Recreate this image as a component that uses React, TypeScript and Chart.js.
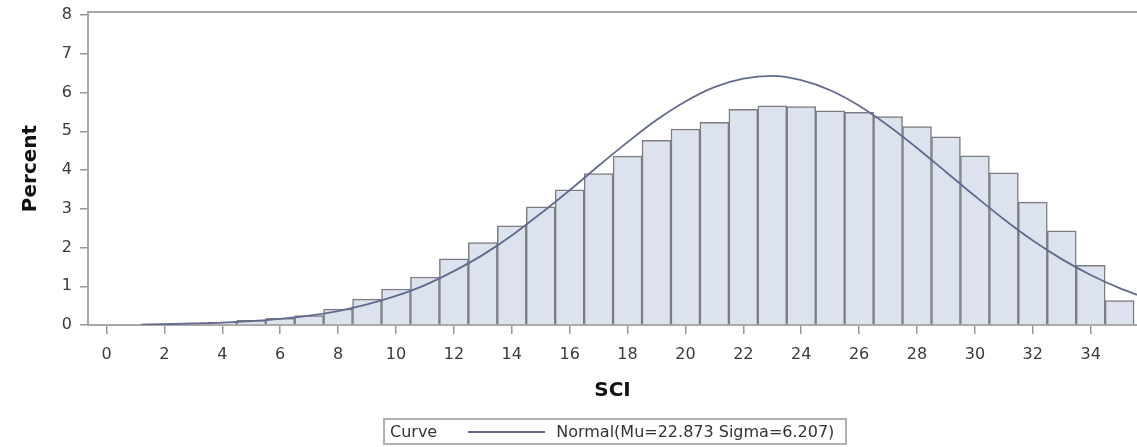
import React, { useEffect, useRef } from "react";
import { Chart, registerables } from "chart.js";

Chart.register(...registerables);

// Histogram bins (SCI value at bin centre) and percent per bin
const binCenters: number[] = [1, 2, 3, 4, 5, 6, 7, 8, 9, 10, 11, 12, 13, 14, 15, 16, 17, 18, 19, 20, 21, 22, 23, 24, 25, 26, 27, 28, 29, 30, 31, 32, 33, 34, 35];
const binPercents: number[] = [0.0, 0.01, 0.03, 0.07, 0.12, 0.17, 0.24, 0.41, 0.67, 0.93, 1.24, 1.71, 2.13, 2.56, 3.05, 3.49, 3.91, 4.36, 4.77, 5.06, 5.23, 5.57, 5.66, 5.64, 5.53, 5.49, 5.38, 5.12, 4.86, 4.37, 3.93, 3.17, 2.43, 1.54, 0.63];

// Fitted normal curve
const curveX: number[] = [1.2, 2, 3, 4, 5, 6, 7, 8, 9, 10, 11, 12, 13, 14, 15, 16, 17, 18, 19, 20, 21, 22, 23, 24, 25, 26, 27, 28, 29, 30, 31, 32, 33, 34, 35, 35.6];
const curveY: number[] = [0.01, 0.02, 0.04, 0.06, 0.1, 0.16, 0.24, 0.36, 0.53, 0.75, 1.03, 1.39, 1.81, 2.31, 2.88, 3.48, 4.11, 4.72, 5.29, 5.77, 6.14, 6.36, 6.43, 6.32, 6.06, 5.66, 5.15, 4.57, 3.95, 3.33, 2.73, 2.18, 1.7, 1.29, 0.95, 0.78];

const xTitle = "SCI";
const yTitle = "Percent";
const legendTitle = "Curve";
const curveLabel = "Normal(Mu=22.873 Sigma=6.207)";

const FONT = "'DejaVu Sans', Verdana, sans-serif";
const AXIS = "#aaa6a6";
const TICK = "#9a9696";
const CURVE = "#626a8e";

const framePlugin = {
  id: "frameTop",
  afterDatasetsDraw(chart: any) {
    const { ctx, chartArea } = chart;
    ctx.save();
    ctx.strokeStyle = AXIS;
    ctx.lineWidth = 2;
    ctx.beginPath();
    ctx.moveTo(chartArea.left, chartArea.top);
    ctx.lineTo(chartArea.right, chartArea.top);
    ctx.stroke();
    ctx.restore();
  },
};

export default function App() {
  const ref = useRef<HTMLCanvasElement | null>(null);

  useEffect(() => {
    if (!ref.current) return;
    Chart.defaults.font.family = FONT;
    const chart = new Chart(ref.current, {
      type: "bar",
      data: {
        datasets: [
          {
            type: "line",
            label: curveLabel,
            data: curveX.map((x, i) => ({ x, y: curveY[i] })),
            borderColor: CURVE,
            borderWidth: 1.8,
            pointRadius: 0,
            cubicInterpolationMode: "monotone",
            fill: false,
            order: 0,
          } as any,
          {
            type: "bar",
            label: "Percent",
            data: binCenters.map((x, i) => ({ x, y: binPercents[i] })),
            backgroundColor: "#dde3ee",
            borderColor: "#7c7c82",
            borderWidth: 1.5,
            borderSkipped: "bottom",
            categoryPercentage: 1,
            barPercentage: 1,
            order: 1,
          } as any,
        ],
      },
      options: {
        animation: false,
        responsive: false,
        devicePixelRatio: 1,
        layout: { padding: { left: 0, top: 12, right: 0, bottom: 42 } },
        plugins: { legend: { display: false }, tooltip: { enabled: false } },
        scales: {
          x: {
            type: "linear",
            min: -0.64,
            max: 35.6,
            offset: false,
            ticks: {
              stepSize: 2,
              includeBounds: false,
              autoSkip: false,
              maxRotation: 0,
              font: { size: 16, family: FONT },
              color: "#3a3a3a",
              padding: 11,
            },
            grid: { offset: false, drawOnChartArea: false, drawTicks: true, tickLength: 9, color: TICK, lineWidth: 1.5 },
            border: { color: AXIS, width: 2 },
            title: {
              display: true,
              text: xTitle,
              font: { size: 20, weight: "bold", family: FONT },
              color: "#111",
              padding: { top: 0, bottom: 2 },
            },
            afterFit: (s: any) => {
              s.height = 80;
              s.paddingLeft = 0;
              s.paddingRight = 0;
            },
          } as any,
          y: {
            type: "linear",
            min: 0,
            max: 8.08,
            ticks: {
              stepSize: 1,
              includeBounds: false,
              font: { size: 16, family: FONT },
              color: "#3a3a3a",
              padding: 8,
            },
            grid: { drawOnChartArea: false, drawTicks: true, tickLength: 8, color: TICK, lineWidth: 1.5 },
            border: { color: AXIS, width: 2 },
            title: {
              display: true,
              text: yTitle,
              font: { size: 20, weight: "bold", family: FONT },
              color: "#111",
              padding: { top: 19, bottom: 0 },
            },
            afterFit: (s: any) => {
              s.width = 88;
              s.paddingTop = 0;
              s.paddingBottom = 0;
            },
          } as any,
        },
      },
      plugins: [framePlugin],
    });
    return () => chart.destroy();
  }, []);

  return (
    <div style={{ position: "fixed", left: 0, top: 0, width: 1137, height: 447, background: "#fff" }}>
      <canvas ref={ref} width={1137} height={447} style={{ display: "block" }} />
      <div
        style={{
          position: "absolute",
          left: 383,
          top: 418,
          width: 460,
          height: 23,
          border: "2px solid #b4afaf",
          fontFamily: FONT,
          fontSize: 16,
          color: "#333",
          display: "flex",
          alignItems: "center",
          whiteSpace: "nowrap",
        }}
      >
        <span style={{ marginLeft: 5 }}>{legendTitle}</span>
        <span style={{ display: "inline-block", width: 77, height: 0, borderTop: `2px solid ${CURVE}`, marginLeft: 31 }} />
        <span style={{ marginLeft: 11 }}>{curveLabel}</span>
      </div>
    </div>
  );
}
